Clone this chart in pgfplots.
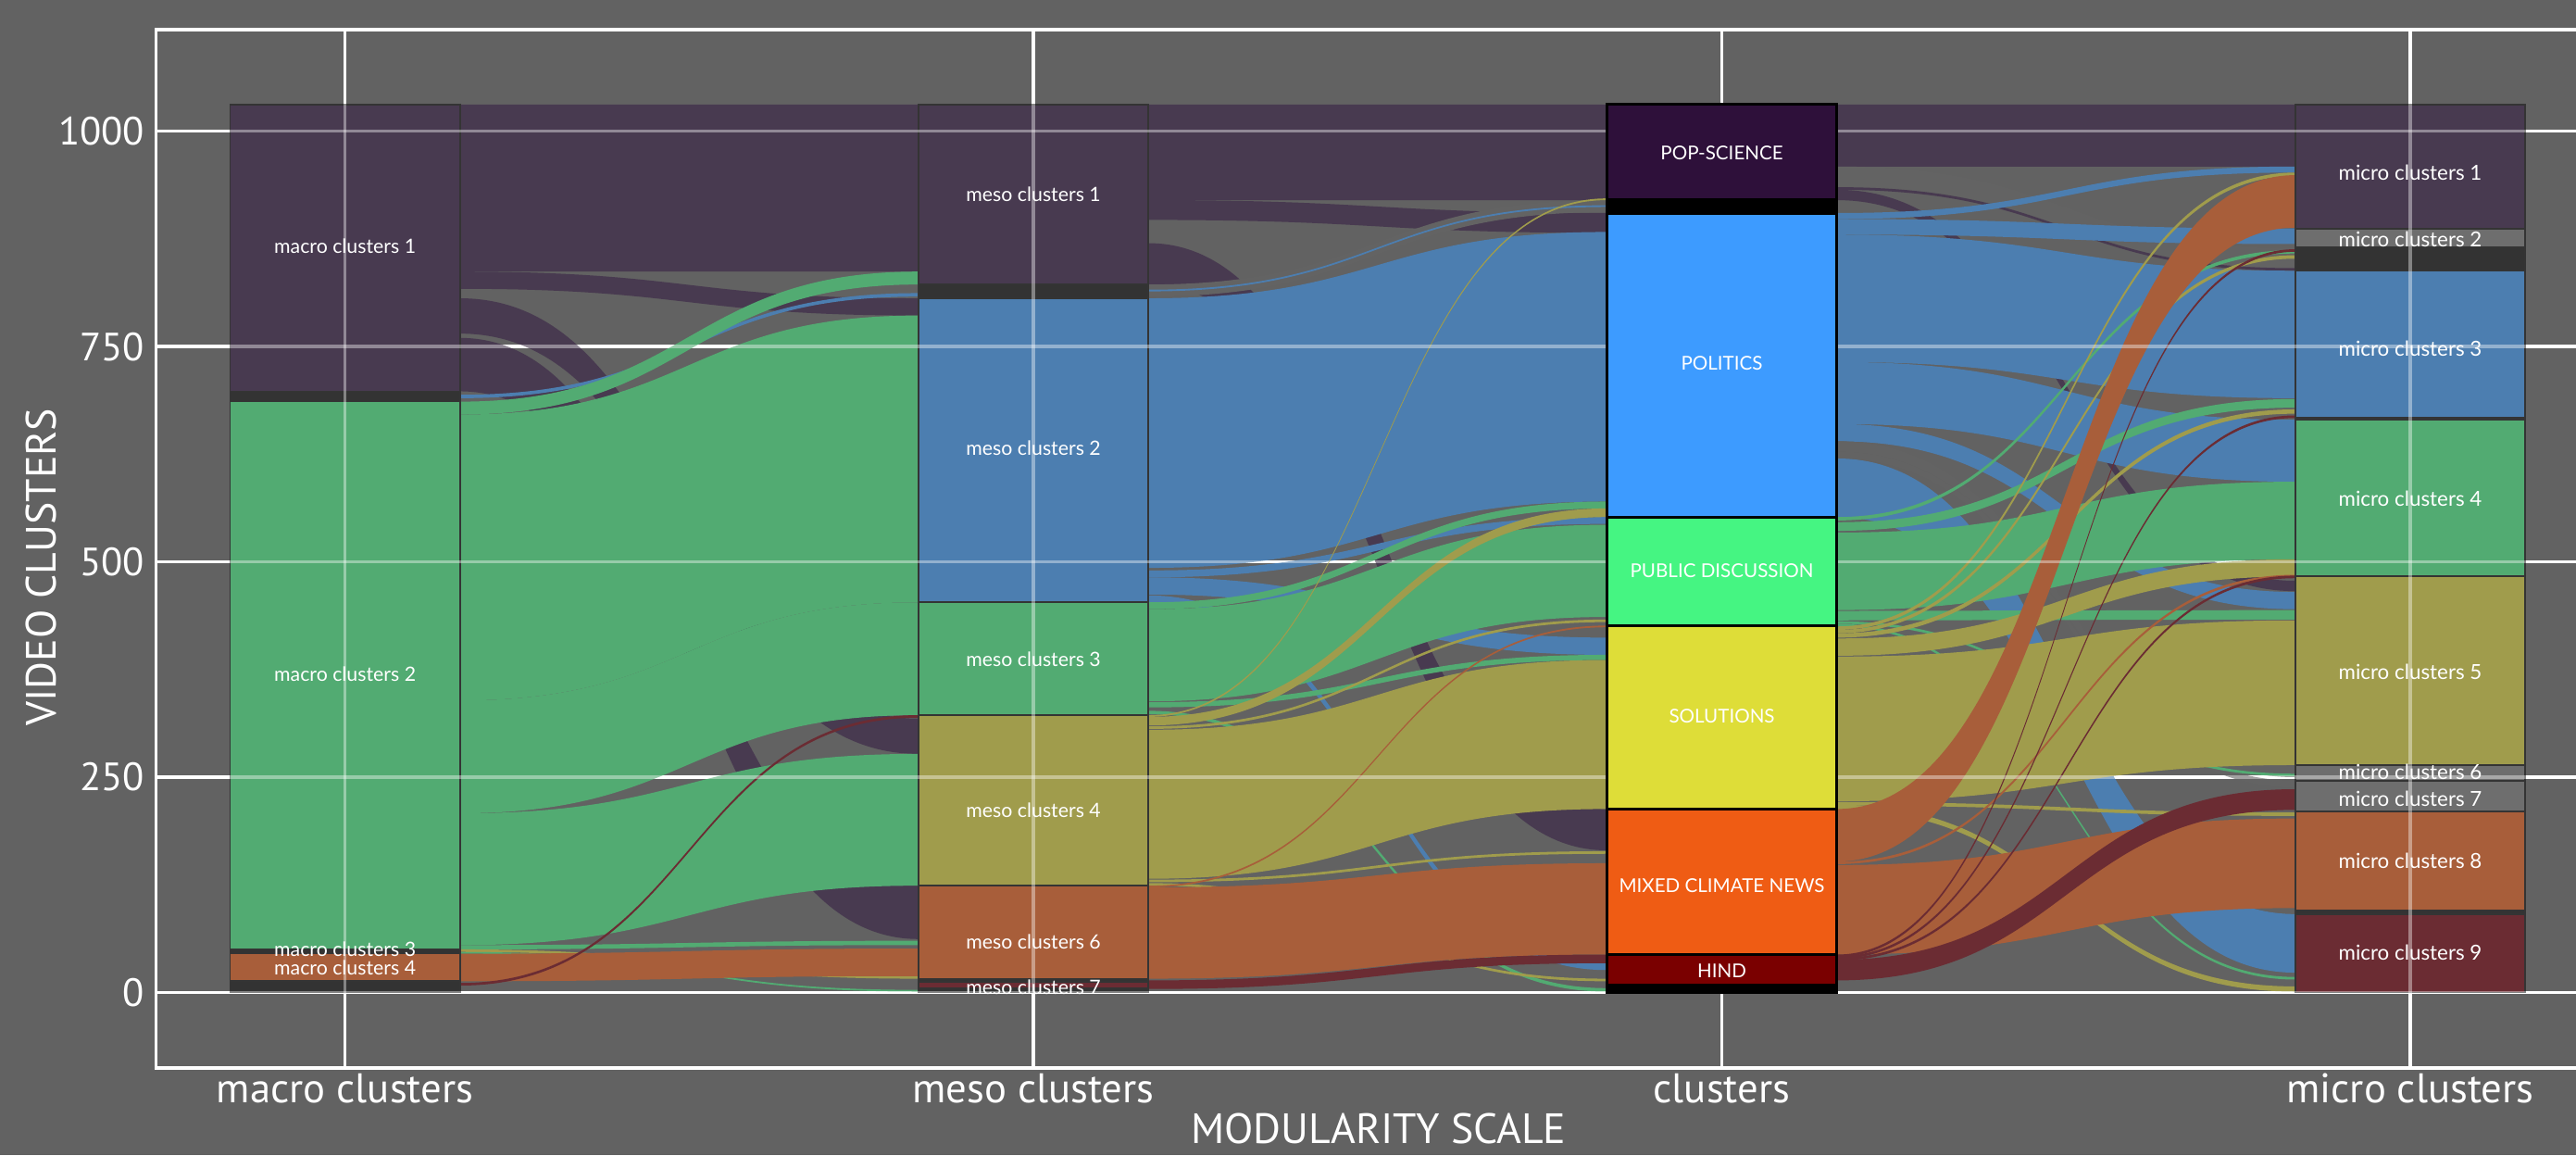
\documentclass[border=0pt]{standalone}
\usepackage{fontspec}
\setmainfont{Lato}
\newfontfamily\ticksf{PT Sans}
\usepackage{pgfplots}
\pgfplotsset{compat=1.18}
\usetikzlibrary{backgrounds}

\definecolor{bgc}{RGB}{98,98,98}
% link / node colours
\definecolor{cpur}{RGB}{72,58,80}
\definecolor{cgrn}{RGB}{82,171,114}
\definecolor{cblu}{RGB}{76,126,176}
\definecolor{coli}{RGB}{160,156,76}
\definecolor{cora}{RGB}{168,94,58}
\definecolor{cred}{RGB}{107,44,51}
\definecolor{cgry}{RGB}{99,99,99}
\definecolor{cgnode}{RGB}{110,110,110}
\definecolor{cdark}{RGB}{51,51,51}
\definecolor{nline}{RGB}{52,52,52}
% cluster colours
\definecolor{cpop}{RGB}{46,16,58}
\definecolor{cpol}{RGB}{61,155,255}
\definecolor{cpub}{RGB}{69,245,130}
\definecolor{csol}{RGB}{222,221,56}
\definecolor{cmix}{RGB}{239,92,20}
\definecolor{chind}{RGB}{122,0,0}

% plot handler: every segment is a cubic with horizontal tangents
\makeatletter
\def\pgfplothandlersankey{%
  \def\pgf@plotstreamstart{%
    \global\let\pgf@plotstreampoint=\sk@first
    \global\let\pgf@plotstreamspecial=\pgfutil@gobble
    \global\let\pgf@plotstreamend=\sk@end
  }%
}
\def\sk@first#1{%
  \pgf@process{#1}%
  \xdef\sk@lx{\the\pgf@x}\xdef\sk@ly{\the\pgf@y}%
  \pgfpathmoveto{\pgfqpoint{\sk@lx}{\sk@ly}}%
  \global\let\pgf@plotstreampoint=\sk@next
}
\def\sk@next#1{%
  \pgf@process{#1}%
  \edef\sk@nx{\the\pgf@x}\edef\sk@ny{\the\pgf@y}%
  \pgf@xa=\sk@lx\relax
  \advance\pgf@xa by \sk@nx\relax
  \pgf@xa=0.5\pgf@xa
  \edef\sk@mx{\the\pgf@xa}%
  \pgfpathcurveto{\pgfqpoint{\sk@mx}{\sk@ly}}{\pgfqpoint{\sk@mx}{\sk@ny}}{\pgfqpoint{\sk@nx}{\sk@ny}}%
  \global\let\sk@lx=\sk@nx
  \global\let\sk@ly=\sk@ny
}
\def\sk@end{\pgfpathclose}
\tikzset{sankey/.code={\let\tikz@plot@handler=\pgfplothandlersankey}}
\makeatother

\pgfplotsset{
  fl/.style={sankey, draw=none, fill=#1, forget plot},
  nd/.style={sankey, fill=#1, draw=nline, line width=0.5pt, forget plot},
  cnd/.style={sankey, fill=#1, draw=black, line width=0.9pt, forget plot},
  frame/.style={
    scale only axis, at={(0,0)}, anchor=south west,
    width=748.9pt, height=316pt,
    xmin=-0.2745, xmax=3.3,
    ymin=-88, ymax=1118,
    xtick={0,1,2,3},
    ytick={0,250,500,750,1000},
    grid=major,
    major tick length=0pt,
  },
}

\begin{document}
\begin{tikzpicture}
\begin{axis}[
    frame,
    xticklabels={macro clusters, meso clusters, clusters, micro clusters},
    grid style={white, line width=1pt},
    axis line style={white, line width=1pt},
    /pgf/number format/assume math mode=true,
    /pgf/number format/1000 sep={},
    tick label style={text=white},
    xticklabel style={font=\ticksf\fontsize{12.6}{14}\selectfont, inner sep=1pt, yshift=-0.5pt},
    yticklabel style={font=\ticksf\fontsize{12}{14}\selectfont},
    xlabel={MODULARITY SCALE},
    ylabel={VIDEO CLUSTERS},
    label style={text=white, font=\ticksf\fontsize{12.9}{14}\selectfont},
    xlabel style={at={(axis description cs:0.4968,-0.058)}, anchor=center, inner sep=0pt},
    ylabel style={at={(axis description cs:-0.0467,0.4826)}, anchor=center},
  ]

% ---------- macro -> meso ----------
\addplot[fl=cpur] coordinates {(0.167,1031) (0.833,1031) (0.833,837) (0.167,837)};
\addplot[fl=cpur] coordinates {(0.167,837) (0.833,806) (0.833,786) (0.167,817)};
\addplot[fl=cpur] coordinates {(0.167,806) (0.833,318) (0.833,277) (0.167,765)};
\addplot[fl=cpur] coordinates {(0.167,760) (0.833,124) (0.833,62) (0.167,698)};
\addplot[fl=cblu] coordinates {(0.167,694) (0.833,812) (0.833,808) (0.167,690)};
\addplot[fl=cgrn] coordinates {(0.167,686) (0.833,837) (0.833,822) (0.167,671)};
\addplot[fl=cgrn] coordinates {(0.167,671) (0.833,786) (0.833,453) (0.167,339)};
\addplot[fl=cgrn] coordinates {(0.167,339) (0.833,453) (0.833,322) (0.167,208)};
\addplot[fl=cgrn] coordinates {(0.167,208) (0.833,277) (0.833,124) (0.167,55)};
\addplot[fl=cgrn] coordinates {(0.167,55) (0.833,60) (0.833,55) (0.167,50)};
\addplot[fl=coli] coordinates {(0.167,50) (0.833,19) (0.833,16) (0.167,47)};
\addplot[fl=cgrn] coordinates {(0.167,47) (0.833,3) (0.833,1) (0.167,45)};
\addplot[fl=cora] coordinates {(0.167,45) (0.833,51) (0.833,19) (0.167,13)};
\addplot[fl=cred] coordinates {(0.167,11) (0.833,322) (0.833,319) (0.167,8)};

% ---------- meso -> clusters ----------
\addplot[fl=cpur] coordinates {(1.167,1031) (1.833,1031) (1.833,920) (1.167,920)};
\addplot[fl=cpur] coordinates {(1.167,920) (1.833,905) (1.833,882) (1.167,897)};
\addplot[fl=cpur] coordinates {(1.167,870) (1.833,213) (1.833,165) (1.167,822)};
\addplot[fl=cgry] coordinates {(1.167,822) (1.833,920) (1.833,906) (1.167,808)};
\addplot[fl=cblu] coordinates {(1.167,816) (1.833,914) (1.833,912) (1.167,814)};
\addplot[fl=cblu] coordinates {(1.167,806) (1.833,883) (1.833,570) (1.167,493)};
\addplot[fl=cblu] coordinates {(1.167,490) (1.833,552) (1.833,544) (1.167,482)};
\addplot[fl=cblu] coordinates {(1.167,482) (1.833,412) (1.833,392) (1.167,462)};
\addplot[fl=cblu] coordinates {(1.167,461) (1.833,34) (1.833,26) (1.167,453)};
\addplot[fl=cgrn] coordinates {(1.167,453) (1.833,570) (1.833,562) (1.167,445)};
\addplot[fl=cgrn] coordinates {(1.167,445) (1.833,543) (1.833,436) (1.167,338)};
\addplot[fl=cgrn] coordinates {(1.167,337) (1.833,392) (1.833,386) (1.167,331)};
\addplot[fl=cgrn] coordinates {(1.167,327) (1.833,5) (1.833,1) (1.167,323)};
\addplot[fl=coli] coordinates {(1.167,322) (1.833,922) (1.833,920) (1.167,320)};
\addplot[fl=coli] coordinates {(1.167,320) (1.833,562) (1.833,552) (1.167,310)};
\addplot[fl=coli] coordinates {(1.167,309) (1.833,433) (1.833,430) (1.167,306)};
\addplot[fl=coli] coordinates {(1.167,305) (1.833,386) (1.833,213) (1.167,132)};
\addplot[fl=coli] coordinates {(1.167,131) (1.833,164) (1.833,161) (1.167,128)};
\addplot[fl=coli] coordinates {(1.167,127) (1.833,16) (1.833,13) (1.167,124)};
\addplot[fl=cora] coordinates {(1.167,124) (1.833,426) (1.833,424) (1.167,122)};
\addplot[fl=cora] coordinates {(1.167,122) (1.833,150) (1.833,44) (1.167,16)};
\addplot[fl=cred] coordinates {(1.167,14) (1.833,44) (1.833,34) (1.167,4)};

% ---------- clusters -> micro ----------
\addplot[fl=cpur] coordinates {(2.167,1031) (2.833,1031) (2.833,959) (2.167,959)};
\addplot[fl=cgry] coordinates {(2.167,959) (2.833,864) (2.833,841) (2.167,936)};
\addplot[fl=cpur] coordinates {(2.167,935) (2.833,841) (2.833,838) (2.167,932)};
\addplot[fl=cpur] coordinates {(2.167,932) (2.833,478) (2.833,466) (2.167,920)};
\addplot[fl=cblu] coordinates {(2.167,905) (2.833,959) (2.833,952) (2.167,898)};
\addplot[fl=cblu] coordinates {(2.167,898) (2.833,887) (2.833,869) (2.167,880)};
\addplot[fl=cblu] coordinates {(2.167,880) (2.833,838) (2.833,690) (2.167,732)};
\addplot[fl=cblu] coordinates {(2.167,732) (2.833,665) (2.833,593) (2.167,660)};
\addplot[fl=cblu] coordinates {(2.167,660) (2.833,465) (2.833,445) (2.167,640)};
\addplot[fl=cgry] coordinates {(2.167,640) (2.833,262) (2.833,250) (2.167,628)};
\addplot[fl=cgry] coordinates {(2.167,628) (2.833,246) (2.833,238) (2.167,620)};
\addplot[fl=cblu] coordinates {(2.167,620) (2.833,91) (2.833,23) (2.167,552)};
\addplot[fl=cgrn] coordinates {(2.167,552) (2.833,862) (2.833,858) (2.167,548)};
\addplot[fl=cgrn] coordinates {(2.167,546) (2.833,689) (2.833,679) (2.167,536)};
\addplot[fl=cgrn] coordinates {(2.167,534) (2.833,593) (2.833,503) (2.167,444)};
\addplot[fl=cgrn] coordinates {(2.167,443) (2.833,444) (2.833,433) (2.167,432)};
\addplot[fl=cgrn] coordinates {(2.167,431) (2.833,254) (2.833,251) (2.167,428)};
\addplot[fl=cgrn] coordinates {(2.167,428) (2.833,18) (2.833,15) (2.167,425)};
\addplot[fl=coli] coordinates {(2.167,425) (2.833,952) (2.833,948) (2.167,421)};
\addplot[fl=coli] coordinates {(2.167,421) (2.833,856) (2.833,852) (2.167,417)};
\addplot[fl=coli] coordinates {(2.167,417) (2.833,677) (2.833,672) (2.167,412)};
\addplot[fl=coli] coordinates {(2.167,411) (2.833,503) (2.833,483) (2.167,391)};
\addplot[fl=coli] coordinates {(2.167,390) (2.833,432) (2.833,264) (2.167,222)};
\addplot[fl=coli] coordinates {(2.167,221) (2.833,209) (2.833,205) (2.167,217)};
\addplot[fl=coli] coordinates {(2.167,218) (2.833,7) (2.833,1) (2.167,212)};
\addplot[fl=cora] coordinates {(2.167,213) (2.833,949) (2.833,888) (2.167,152)};
\addplot[fl=cora] coordinates {(2.167,152) (2.833,485) (2.833,482) (2.167,149)};
\addplot[fl=cora] coordinates {(2.167,148) (2.833,202) (2.833,98) (2.167,44)};
\addplot[fl=cred] coordinates {(2.167,44) (2.833,863) (2.833,860) (2.167,41)};
\addplot[fl=cred] coordinates {(2.167,42) (2.833,670) (2.833,667) (2.167,39)};
\addplot[fl=cred] coordinates {(2.167,40) (2.833,484) (2.833,481) (2.167,37)};
\addplot[fl=cred] coordinates {(2.167,38) (2.833,236) (2.833,212) (2.167,14)};

% ---------- nodes: macro ----------
\addplot[nd=cpur]  coordinates {(-0.167,1031) (0.167,1031) (0.167,698) (-0.167,698)};
\addplot[nd=cdark] coordinates {(-0.167,698) (0.167,698) (0.167,686) (-0.167,686)};
\addplot[nd=cgrn]  coordinates {(-0.167,686) (0.167,686) (0.167,50) (-0.167,50)};
\addplot[nd=cdark] coordinates {(-0.167,50) (0.167,50) (0.167,45) (-0.167,45)};
\addplot[nd=cora]  coordinates {(-0.167,45) (0.167,45) (0.167,13) (-0.167,13)};
\addplot[nd=cdark] coordinates {(-0.167,13) (0.167,13) (0.167,0) (-0.167,0)};
% ---------- nodes: meso ----------
\addplot[nd=cpur]  coordinates {(0.833,1031) (1.167,1031) (1.167,822) (0.833,822)};
\addplot[nd=cdark] coordinates {(0.833,822) (1.167,822) (1.167,806) (0.833,806)};
\addplot[nd=cblu]  coordinates {(0.833,806) (1.167,806) (1.167,453) (0.833,453)};
\addplot[nd=cgrn]  coordinates {(0.833,453) (1.167,453) (1.167,322) (0.833,322)};
\addplot[nd=coli]  coordinates {(0.833,322) (1.167,322) (1.167,124) (0.833,124)};
\addplot[nd=cora]  coordinates {(0.833,124) (1.167,124) (1.167,16) (0.833,16)};
\addplot[nd=cdark] coordinates {(0.833,16) (1.167,16) (1.167,12) (0.833,12)};
\addplot[nd=cred]  coordinates {(0.833,12) (1.167,12) (1.167,5) (0.833,5)};
\addplot[nd=cdark] coordinates {(0.833,5) (1.167,5) (1.167,0) (0.833,0)};
% ---------- nodes: micro ----------
\addplot[nd=cpur]   coordinates {(2.833,1031) (3.167,1031) (3.167,887) (2.833,887)};
\addplot[nd=cgnode] coordinates {(2.833,887) (3.167,887) (3.167,865) (2.833,865)};
\addplot[nd=cdark]  coordinates {(2.833,865) (3.167,865) (3.167,838) (2.833,838)};
\addplot[nd=cblu]   coordinates {(2.833,838) (3.167,838) (3.167,667) (2.833,667)};
\addplot[nd=cdark]  coordinates {(2.833,667) (3.167,667) (3.167,665) (2.833,665)};
\addplot[nd=cgrn]   coordinates {(2.833,665) (3.167,665) (3.167,483) (2.833,483)};
\addplot[nd=coli]   coordinates {(2.833,483) (3.167,483) (3.167,264) (2.833,264)};
\addplot[nd=cgnode] coordinates {(2.833,264) (3.167,264) (3.167,246) (2.833,246)};
\addplot[nd=cgnode] coordinates {(2.833,246) (3.167,246) (3.167,210) (2.833,210)};
\addplot[nd=cora]   coordinates {(2.833,210) (3.167,210) (3.167,95) (2.833,95)};
\addplot[nd=cdark]  coordinates {(2.833,95) (3.167,95) (3.167,91) (2.833,91)};
\addplot[nd=cred]   coordinates {(2.833,91) (3.167,91) (3.167,0) (2.833,0)};

\coordinate (BL) at (rel axis cs:0,0);
\end{axis}

% second frame: the grid seen through the links, then the cluster column
\begin{axis}[
    frame,
    xticklabels={}, yticklabels={},
    grid style={white, opacity=0.4, line width=1pt},
    axis line style={draw=none},
  ]
\addplot[cnd=cpop]  coordinates {(1.833,1031) (2.167,1031) (2.167,920) (1.833,920)};
\addplot[cnd=black] coordinates {(1.833,920) (2.167,920) (2.167,905) (1.833,905)};
\addplot[cnd=cpol]  coordinates {(1.833,905) (2.167,905) (2.167,552) (1.833,552)};
\addplot[cnd=cpub]  coordinates {(1.833,552) (2.167,552) (2.167,426) (1.833,426)};
\addplot[cnd=csol]  coordinates {(1.833,426) (2.167,426) (2.167,213) (1.833,213)};
\addplot[cnd=cmix]  coordinates {(1.833,213) (2.167,213) (2.167,44) (1.833,44)};
\addplot[cnd=chind] coordinates {(1.833,44) (2.167,44) (2.167,8) (1.833,8)};
\addplot[cnd=black] coordinates {(1.833,8) (2.167,8) (2.167,0) (1.833,0)};

% ---------- node labels ----------
\addplot[draw=none, mark=none, forget plot, nodes near coords, point meta=explicit symbolic,
  every node near coord/.append style={text=white, font=\fontsize{6.0}{7}\selectfont, anchor=center, inner sep=0pt}]
  table[col sep=comma, meta=lab] {
x,y,lab
0,866,macro clusters 1
0,370,macro clusters 2
0,50,macro clusters 3
0,29,macro clusters 4
1,927,meso clusters 1
1,632,meso clusters 2
1,387,meso clusters 3
1,212,meso clusters 4
1,59,meso clusters 6
1,6,meso clusters 7
};
\addplot[draw=none, mark=none, forget plot, nodes near coords, point meta=explicit symbolic,
  every node near coord/.append style={text=white, font=\fontsize{6.3}{7}\selectfont, anchor=center, inner sep=0pt}]
  table[col sep=comma, meta=lab] {
x,y,lab
3,952,micro clusters 1
3,874,micro clusters 2
3,748,micro clusters 3
3,573,micro clusters 4
3,372,micro clusters 5
3,256,micro clusters 6
3,225,micro clusters 7
3,153,micro clusters 8
3,46,micro clusters 9
};
\addplot[draw=none, mark=none, forget plot, nodes near coords, point meta=explicit symbolic,
  every node near coord/.append style={text=white, font=\fontsize{5.8}{7}\selectfont, anchor=center, inner sep=0pt}]
  table[col sep=comma, meta=lab] {
x,y,lab
2,975,POP-SCIENCE
2,731,POLITICS
2,490,PUBLIC DISCUSSION
2,321,SOLUTIONS
2,124,MIXED CLIMATE NEWS
2,25,HIND
};
\end{axis}

\pgfresetboundingbox
\begin{scope}[on background layer]
  \fill[bgc] ([shift={(-47.5pt,-26.5pt)}]BL) rectangle ([shift={(736.5pt,325pt)}]BL);
\end{scope}
\end{tikzpicture}
\end{document}
